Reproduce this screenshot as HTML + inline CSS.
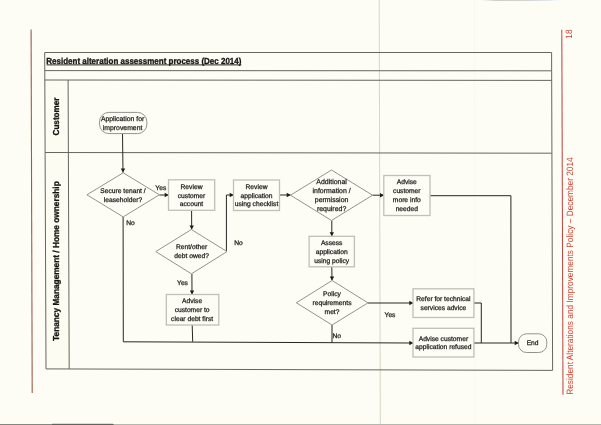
<!DOCTYPE html>
<html lang="en"><head><meta charset="utf-8"><title>Resident alteration assessment process (Dec 2014)</title>
<style>
html,body{margin:0;padding:0;background:#fdfdf6;}
body{width:601px;height:425px;overflow:hidden;font-family:"Liberation Sans",sans-serif;}
svg{display:block;position:absolute;left:0;top:0;}
text{font-family:"Liberation Sans",sans-serif;text-rendering:geometricPrecision;}
.t{font-size:6.7px;fill:#1c1c1a;text-anchor:middle;stroke:#1c1c1a;stroke-width:0.25;}
.b{font-weight:700;fill:#161614;stroke:#161614;stroke-width:0.32;}
.r{fill:#cc3f30;}
.f{stroke:#66665f;stroke-width:1;fill:none;}
.c{stroke:#262624;stroke-width:1;fill:none;}
.s{stroke:#c0c0b9;stroke-width:1.3;fill:#fdfdf6;}
.d{stroke:#93938d;stroke-width:1;fill:#fdfdf6;}
.a{fill:#1c1c1a;stroke:none;}
</style></head><body>
<svg width="601" height="425" viewBox="0 0 601 425" role="img" aria-label="Resident alteration assessment process flowchart">
<rect x="0" y="0" width="601" height="425" fill="#fdfdf6"/>
<defs><filter id="g" x="0" y="0" width="601" height="425" filterUnits="userSpaceOnUse" color-interpolation-filters="sRGB"><feOffset dx="0" dy="0"/></filter></defs>
<g filter="url(#g)">
<line x1="379.2" y1="0" x2="380.3" y2="425" stroke="#d3d0be" stroke-width="0.9"/>
<line x1="474.5" y1="0" x2="475" y2="425" stroke="#f7f6ee" stroke-width="0.8"/>
<defs><linearGradient id="tg" x1="0" y1="0" x2="1" y2="0"><stop offset="0" stop-color="#d8d8d4" stop-opacity="0"/><stop offset="0.2" stop-color="#8c8c8c"/><stop offset="0.6" stop-color="#9a9a9c"/><stop offset="0.85" stop-color="#b4ccd2"/><stop offset="1" stop-color="#d8e4e4" stop-opacity="0"/></linearGradient></defs>
<rect x="479" y="0" width="82" height="1" fill="url(#tg)" opacity="0.42"/>
<rect x="0" y="424" width="601" height="1" fill="#b6b6b1"/>
<rect x="0" y="424" width="114" height="1" fill="#85857f"/>
<rect x="52" y="423.8" width="61" height="1.2" fill="#62625e"/>
<line x1="31.1" y1="29.5" x2="32.2" y2="393" stroke="#9c5c4c" stroke-width="1.1"/>
<line x1="561.8" y1="29.8" x2="563.0" y2="394.7" stroke="#b94a48" stroke-width="1.05"/>
<polygon points="44.8,80 68.2,80 69.2,368.8 46.0,368.8" fill="#fcfcf2"/>
<polygon class="f" points="44.7,52.5 551.6,52.5 552.6,370.4 46.0,368.9"/>
<line class="f" x1="44.8" y1="70.6" x2="551.7" y2="70.8"/>
<line class="f" x1="44.8" y1="80.0" x2="551.7" y2="80.4"/>
<line class="f" x1="45.1" y1="152.5" x2="551.9" y2="153.2"/>
<line class="f" x1="68.1" y1="80" x2="69.2" y2="368.9"/>
<text class="b" style="font-size:8.8px" transform="translate(46.3 64.1) scale(0.909 1)">Resident alteration assessment process (Dec 2014)</text>
<line x1="46.6" y1="64.9" x2="241.3" y2="64.9" stroke="#161614" stroke-width="0.9"/>
<text class="b" style="font-size:8.7px;text-anchor:middle" transform="translate(59.2 116.5) rotate(-90) scale(0.935 1)">Customer</text>
<text class="b" style="font-size:8.7px;text-anchor:middle" transform="translate(59.2 261.1) rotate(-90) scale(0.954 1)">Tenancy Management / Home ownership</text>
<text class="r" style="font-size:9.2px" transform="translate(573.0 394.8) rotate(-90) scale(0.903 1)">Resident Alterations and Improvements Policy – December 2014</text>
<text class="r" style="font-size:9.2px" transform="translate(572.1 38.7) rotate(-90) scale(0.903 1)">18</text>
<polyline class="c" points="122.5,133.5 123.0,172.6"/>
<polygon class="a" points="123.0,172.6 120.8,168.6 125.2,168.6"/>
<polyline class="c" points="159.4,195.0 168.4,195.0"/>
<polygon class="a" points="168.7,195.0 164.7,192.8 164.7,197.2"/>
<polyline class="c" points="123.1,216.9 123.3,341.8 413.0,343.0"/>
<polygon class="a" points="413.3,343.0 409.3,340.8 409.3,345.2"/>
<polyline class="c" points="191.6,210.3 191.7,229.4"/>
<polygon class="a" points="191.7,229.4 189.5,225.4 193.9,225.4"/>
<polyline class="c" points="226.4,251.6 226.4,195.0 233.4,195.0"/>
<polygon class="a" points="233.7,195.0 229.7,192.8 229.7,197.2"/>
<polyline class="c" points="191.9,273.8 192.0,294.4"/>
<polygon class="a" points="192.0,294.4 189.8,290.4 194.2,290.4"/>
<polyline class="c" points="192.2,325.0 192.7,341.8"/>
<polyline class="c" points="279.5,195.0 290.4,195.0"/>
<polygon class="a" points="290.7,195.0 286.7,192.8 286.7,197.2"/>
<polyline class="c" points="372.5,195.2 383.7,195.2"/>
<polygon class="a" points="384.0,195.2 380.0,193.0 380.0,197.4"/>
<polyline class="c" points="331.8,220.5 331.8,236.2"/>
<polygon class="a" points="331.8,236.2 329.6,232.2 334.0,232.2"/>
<polyline class="c" points="331.8,267.0 332.0,280.4"/>
<polygon class="a" points="332.0,280.4 329.8,276.4 334.2,276.4"/>
<polyline class="c" points="368.0,303.0 413.0,303.0"/>
<polygon class="a" points="413.3,303.0 409.3,300.8 409.3,305.2"/>
<polyline class="c" points="332.0,325.0 332.0,342.6"/>
<polyline class="c" points="430.0,195.7 510.9,195.7 511.0,343.0"/>
<polyline class="c" points="473.9,303.0 481.3,303.0 481.3,343.0"/>
<polyline class="c" points="473.9,343.0 518.4,343.0"/>
<polygon class="a" points="518.7,343.0 514.7,340.8 514.7,345.2"/>
<rect class="d" x="99.5" y="112.4" width="47.4" height="21.2" rx="9.4" ry="9.4"/>
<polygon class="d" points="123.2,172.8 159.4,194.8 123.2,216.9 86.9,194.8"/>
<rect class="s" x="168.5" y="179.8" width="46.2" height="30.5"/>
<rect class="s" x="233.5" y="180.0" width="46.0" height="30.5"/>
<polygon class="d" points="191.4,229.5 227.0,251.6 191.4,273.8 155.8,251.6"/>
<rect class="s" x="166.3" y="294.5" width="52.5" height="30.5"/>
<polygon class="d" points="331.5,170.0 372.5,195.2 331.5,220.5 290.5,195.2"/>
<rect class="s" x="383.8" y="175.5" width="46.2" height="40.0"/>
<rect class="s" x="309.1" y="236.3" width="45.3" height="30.5"/>
<polygon class="d" points="332.1,280.5 368.0,302.8 332.1,325.0 296.3,302.8"/>
<rect class="s" x="413.0" y="288.8" width="60.9" height="28.7"/>
<rect class="s" x="413.0" y="328.3" width="60.9" height="28.7"/>
<rect class="d" x="518.5" y="333.8" width="28.3" height="18.7" rx="8.1" ry="8.1"/>
<text class="t" style="font-size:6.85px" x="122.6" y="120.8">Application for</text>
<text class="t" style="font-size:6.85px" x="122.6" y="129.6">improvement</text>
<text class="t" x="123.0" y="193.1">Secure tenant /</text>
<text class="t" x="123.0" y="201.8">leaseholder?</text>
<text class="t" x="191.5" y="188.8">Review</text>
<text class="t" x="191.5" y="197.6">customer</text>
<text class="t" x="191.5" y="206.3">account</text>
<text class="t" x="256.5" y="188.8">Review</text>
<text class="t" x="256.5" y="197.6">application</text>
<text class="t" x="256.5" y="206.3">using checklist</text>
<text class="t" x="191.6" y="249.2">Rent/other</text>
<text class="t" x="191.6" y="258.2">debt owed?</text>
<text class="t" x="192.1" y="303.2">Advise</text>
<text class="t" x="192.1" y="311.9">customer to</text>
<text class="t" x="192.1" y="320.7">clear debt first</text>
<text class="t" style="font-size:6.95px" x="331.6" y="184.0">Additional</text>
<text class="t" style="font-size:6.95px" x="331.6" y="193.0">information /</text>
<text class="t" style="font-size:6.95px" x="331.6" y="202.0">permission</text>
<text class="t" style="font-size:6.95px" x="331.6" y="211.0">required?</text>
<text class="t" x="406.8" y="184.2">Advise</text>
<text class="t" x="406.8" y="193.2">customer</text>
<text class="t" x="406.8" y="202.2">more info</text>
<text class="t" x="406.8" y="211.2">needed</text>
<text class="t" x="331.7" y="245.4">Assess</text>
<text class="t" x="331.7" y="254.2">application</text>
<text class="t" x="331.7" y="262.9">using policy</text>
<text class="t" x="332.0" y="295.9">Policy</text>
<text class="t" x="332.0" y="304.9">requirements</text>
<text class="t" x="332.0" y="314.0">met?</text>
<text class="t" x="443.4" y="301.0">Refer for technical</text>
<text class="t" x="443.4" y="309.8">services advice</text>
<text class="t" x="443.4" y="340.5">Advise customer</text>
<text class="t" x="443.4" y="349.2">application refused</text>
<text class="t" x="532.6" y="345.4">End</text>
<text class="t" x="160.8" y="189.8">Yes</text>
<text class="t" x="130.5" y="225.0">No</text>
<text class="t" x="238.5" y="244.8">No</text>
<text class="t" x="182.5" y="285.0">Yes</text>
<text class="t" x="390.0" y="316.8">Yes</text>
<text class="t" x="336.8" y="337.8">No</text>
</g>
</svg>
</body></html>
